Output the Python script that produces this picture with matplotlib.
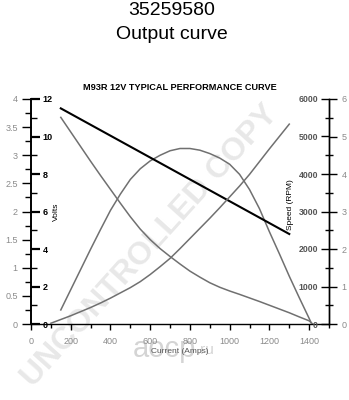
import matplotlib
matplotlib.use("Agg")
import matplotlib.pyplot as plt
from matplotlib.ticker import MultipleLocator

plt.rcParams['font.family'] = ['Liberation Sans', 'DejaVu Sans']

# ---- data ----
volts_current = [150, 1300]
volts = [11.5, 4.8]

speed_current = [150, 200, 250, 300, 350, 400, 450, 500, 550, 600, 650, 700, 750, 800,
                 850, 900, 950, 1000, 1050, 1100, 1150, 1200, 1250, 1300, 1350, 1400, 1418]
speed_rpm = [5510, 5120, 4730, 4340, 3960, 3590, 3220, 2860, 2530, 2250, 2010, 1800, 1600, 1410,
             1250, 1100, 980, 880, 790, 695, 600, 500, 400, 300, 190, 85, 0]

power_current = [150, 200, 250, 300, 350, 400, 450, 500, 550, 600, 650, 700, 750, 800,
                 850, 900, 950, 1000, 1050, 1100, 1150, 1200, 1250, 1300, 1350, 1400, 1413]
power_kw = [0.25, 0.61, 0.97, 1.33, 1.68, 2.02, 2.31, 2.57, 2.76, 2.90, 3.00, 3.08, 3.12, 3.12,
            3.09, 3.03, 2.95, 2.84, 2.66, 2.39, 2.05, 1.64, 1.25, 0.85, 0.47, 0.10, 0.0]

torque_current = [100, 150, 200, 250, 300, 350, 400, 450, 500, 550, 600, 650, 700, 750,
                  800, 850, 900, 950, 1000, 1050, 1100, 1150, 1200, 1250, 1300]
torque = [0.02, 0.12, 0.22, 0.33, 0.44, 0.56, 0.69, 0.83, 0.97, 1.13, 1.32, 1.53, 1.75, 2.01,
          2.28, 2.55, 2.82, 3.10, 3.39, 3.68, 3.99, 4.33, 4.67, 5.00, 5.33]

x_ticks = [0, 200, 400, 600, 800, 1000, 1200, 1400]

title_line1 = "35259580"
title_line2 = "Output curve"
chart_title = "M93R 12V TYPICAL PERFORMANCE CURVE"

GRAY = '#707070'
LBLGRAY = '#8a8a8a'

fig = plt.figure(figsize=(3.49, 4.0), dpi=100)

# watermarks (behind)
fig.text(0.43, 0.385, "UNCONTROLLED COPY", rotation=48, fontsize=23, fontweight='bold',
         color='#e8e8e8', ha='center', va='center', zorder=-1)
fig.text(0.47, 0.127, "aocp", fontsize=21, color='#d4d4d4', ha='center', va='center', zorder=-1)
fig.text(0.59, 0.124, ".ru", fontsize=11, color='#d4d4d4', ha='center', va='center', zorder=-1)

fig.text(0.493, 0.973, title_line1, ha='center', va='center', fontsize=14)
fig.text(0.493, 0.914, title_line2, ha='center', va='center', fontsize=14)

rect = [31/349, 1-324/400, 298/349, 225/400]
ax = fig.add_axes(rect)
ax.set_facecolor('none')
ax.set_xlim(0, 1500)
ax.set_ylim(0, 4)
ax.spines['top'].set_visible(False)
ax.spines['right'].set_visible(False)
ax.spines['left'].set_linewidth(1.2)
ax.spines['bottom'].set_linewidth(1.0)
ax.xaxis.set_minor_locator(MultipleLocator(100))
ax.set_xticks(x_ticks)
ax.tick_params(axis='x', which='major', direction='out', length=4, width=1, pad=5,
               labelsize=6.5, labelcolor=LBLGRAY)
ax.tick_params(axis='x', which='minor', direction='out', length=3, width=1)
ax.yaxis.set_minor_locator(MultipleLocator(0.25))
ax.tick_params(axis='y', which='major', direction='out', length=6.5, width=1, pad=3,
               labelsize=6.5, labelcolor=LBLGRAY)
ax.tick_params(axis='y', which='minor', direction='out', length=4, width=1)
ax.set_yticks([0, 0.5, 1, 1.5, 2, 2.5, 3, 3.5, 4])
ax.set_yticklabels(['0', '0.5', '1', '1.5', '2', '2.5', '3', '3.5', '4'])
ax.set_xlabel("Current (Amps)", fontsize=6, color='#555555', labelpad=2)
ax.plot(power_current, power_kw, color=GRAY, lw=1.1, zorder=3)

# inner volts axis (ticks to the right of left spine)
axv = ax.twinx()
axv.set_facecolor('none')
axv.set_ylim(0, 12)
for s in ['top', 'left', 'bottom']:
    axv.spines[s].set_visible(False)
axv.spines['right'].set_position(('axes', 0))
axv.spines['right'].set_linewidth(1.2)
axv.yaxis.set_ticks_position('right')
axv.yaxis.set_major_locator(MultipleLocator(2))
axv.yaxis.set_minor_locator(MultipleLocator(1))
axv.tick_params(axis='y', which='major', direction='out', length=6.5, width=1.6, pad=2,
                labelsize=6.5, labelcolor='black')
axv.tick_params(axis='y', which='minor', direction='out', length=4, width=1)
for t in axv.get_yticklabels():
    t.set_fontweight('bold')
axv.plot(volts_current, volts, color='black', lw=1.5, zorder=4)
axv.text(0.085, 0.5, "Volts", rotation=90, transform=axv.transAxes, fontsize=6,
         ha='center', va='center')
axv.text(0.5, 1.05, chart_title, transform=axv.transAxes, fontsize=6.6, fontweight='bold',
         ha='center', va='center')

# inner speed axis (ticks to the left of right spine)
axs = ax.twinx()
axs.set_facecolor('none')
axs.set_ylim(0, 6000)
for s in ['top', 'right', 'bottom']:
    axs.spines[s].set_visible(False)
axs.spines['left'].set_position(('axes', 1))
axs.spines['left'].set_linewidth(1.0)
axs.yaxis.set_ticks_position('left')
axs.yaxis.set_major_locator(MultipleLocator(1000))
axs.yaxis.set_minor_locator(MultipleLocator(500))
axs.tick_params(axis='y', which='major', direction='out', length=6, width=1, pad=2,
                labelsize=6.3, labelcolor='#555555')
axs.tick_params(axis='y', which='minor', direction='out', length=3, width=1)
for t in axs.get_yticklabels():
    t.set_fontweight('bold')
axs.plot(speed_current, speed_rpm, color=GRAY, lw=1.1, zorder=3)
axs.text(0.87, 0.53, "Speed (RPM)", rotation=90, transform=axs.transAxes, fontsize=6,
         ha='center', va='center')

# outer torque axis (right)
axt = ax.twinx()
axt.set_facecolor('none')
axt.set_ylim(0, 6)
for s in ['top', 'left', 'bottom']:
    axt.spines[s].set_visible(False)
axt.spines['right'].set_linewidth(1.0)
axt.yaxis.set_major_locator(MultipleLocator(1))
axt.yaxis.set_minor_locator(MultipleLocator(0.5))
axt.tick_params(axis='y', which='major', direction='out', length=6, width=1, pad=3,
                labelsize=6.5, labelcolor=LBLGRAY)
axt.tick_params(axis='y', which='minor', direction='out', length=3, width=1)
axt.plot(torque_current, torque, color=GRAY, lw=1.1, zorder=3)

fig.savefig("out.png", dpi=100)
